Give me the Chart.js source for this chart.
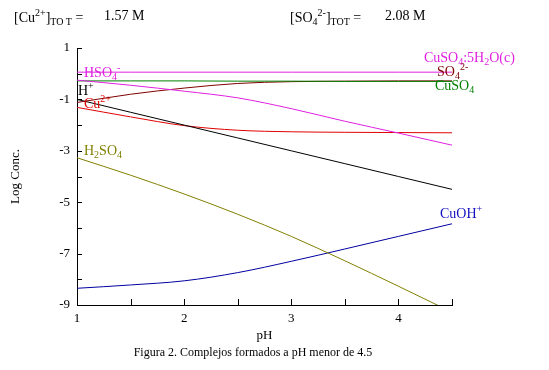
<!DOCTYPE html>
<html>
<head>
<meta charset="utf-8">
<script src="https://cdn.jsdelivr.net/npm/chart.js@4/dist/chart.umd.min.js"></script>
<style>
  body { margin: 0; background: #fff; font-family: 'Liberation Serif', serif; }
  #wrap { position: relative; width: 549px; height: 370px; }
  .txt { position: absolute; font-size: 14px; color: #000; white-space: nowrap; line-height: 1; }
  .txt sub, .txt sup { font-size: 10px; }
  #caption { position: absolute; left: 0; width: 506px; top: 345px; text-align: center; font-size: 12px; }
</style>
</head>
<body>
<div id="wrap">
  <canvas id="chart" width="549" height="370"></canvas>
  <div class="txt" style="left:14px;top:8px">[Cu<sup>2+</sup>]<sub>TO T</sub> =</div>
  <div class="txt" style="left:104px;top:9px">1.57 M</div>
  <div class="txt" style="left:290px;top:8px">[SO<sub>4</sub><sup>2-</sup>]<sub>TOT</sub> =</div>
  <div class="txt" style="left:385px;top:9px">2.08 M</div>
  <div id="caption">Figura 2. Complejos formados a pH menor de 4.5</div>
</div>
<script>
// pH grid and log concentrations
const phValues = [1, 1.5, 2, 2.5, 3, 3.5, 4, 4.5];
const logCuSO4Solid = [0.06, 0.06, 0.06, 0.06, 0.06, 0.06, 0.06, 0.06];
const logHSO4 = [-0.25, -0.45, -0.68, -0.94, -1.36, -1.85, -2.31, -2.78];
const logCuSO4 = [-0.28, -0.28, -0.28, -0.29, -0.29, -0.3, -0.3, -0.3];
const logSO4 = [-1.12, -0.8, -0.56, -0.38, -0.31, -0.29, -0.28, -0.28];
const logH = [-1, -1.5, -2, -2.5, -3, -3.5, -4, -4.5];
const logCu = [-1.31, -1.68, -2.02, -2.2, -2.26, -2.28, -2.29, -2.3];
const logH2SO4 = [-3.27, -3.95, -4.68, -5.47, -6.33, -7.28, -8.27, -9.28];
const logCuOH = [-8.35, -8.22, -8.06, -7.74, -7.3, -6.82, -6.33, -5.84];

const xTickLabels = [1, 2, 3, 4];
const yTickLabels = [1, -1, -3, -5, -7, -9];

const FONT = "'Liberation Serif', serif";

function pts(values) {
  return values.map((v, i) => ({ x: phValues[i], y: v }));
}

function line(values, color) {
  return {
    data: pts(values),
    borderColor: color,
    borderWidth: 1,
    pointRadius: 0,
    fill: false,
    cubicInterpolationMode: 'monotone'
  };
}

// species labels: [parts, x, y, color]; parts are [text, 'sub'|'sup'|'']
const speciesLabels = [
  [[['HSO', ''], ['4', 'sub'], ['-', 'sup']], 84, 77, '#e020e0'],
  [[['H', ''], ['+', 'sup']], 78, 95, '#000'],
  [[['Cu', ''], ['2+', 'sup']], 84, 108, '#e00000'],
  [[['H', ''], ['2', 'sub'], ['SO', ''], ['4', 'sub']], 84, 155, '#808000'],
  [[['CuSO', ''], ['4', 'sub'], [':5H', ''], ['2', 'sub'], ['O(c)', '']], 424, 62, '#e020e0'],
  [[['SO', ''], ['4', 'sub'], ['2-', 'sup']], 437, 76, '#800000'],
  [[['CuSO', ''], ['4', 'sub']], 435, 90, '#008000'],
  [[['CuOH', ''], ['+', 'sup']], 440, 218, '#1010c0']
];

function drawRich(ctx, parts, x, y, color) {
  ctx.fillStyle = color;
  ctx.textBaseline = 'alphabetic';
  ctx.textAlign = 'left';
  let cx = x;
  parts.forEach(([t, kind]) => {
    ctx.font = (kind ? '10px ' : '14px ') + FONT;
    const dy = kind === 'sub' ? 3 : kind === 'sup' ? -6 : 0;
    ctx.fillText(t, cx, y + dy);
    cx += ctx.measureText(t).width;
  });
}

const decorPlugin = {
  id: 'decor',
  afterDatasetsDraw(chart) {
    const { ctx, chartArea, scales } = chart;
    ctx.save();
    ctx.strokeStyle = '#000';
    ctx.lineWidth = 1;
    ctx.beginPath();
    // inward tick marks
    scales.y.ticks.forEach(t => {
      const py = Math.round(scales.y.getPixelForValue(t.value)) + 0.5;
      ctx.moveTo(chartArea.left, py);
      ctx.lineTo(chartArea.left + 5, py);
    });
    scales.x.ticks.forEach(t => {
      const px = Math.round(scales.x.getPixelForValue(t.value)) + 0.5;
      ctx.moveTo(px, chartArea.bottom);
      ctx.lineTo(px, chartArea.bottom - 6);
    });
    ctx.stroke();
    speciesLabels.forEach(([parts, x, y, color]) => drawRich(ctx, parts, x, y, color));
    ctx.restore();
  }
};

new Chart(document.getElementById('chart'), {
  type: 'line',
  data: {
    datasets: [
      line(logCuSO4Solid, '#e020e0'),
      line(logHSO4, '#e020e0'),
      line(logCuSO4, '#008000'),
      line(logSO4, '#800000'),
      line(logH, '#000000'),
      line(logCu, '#e00000'),
      line(logH2SO4, '#808000'),
      line(logCuOH, '#0000a0')
    ]
  },
  options: {
    responsive: false,
    animation: false,
    layout: { padding: { top: 48, right: 97, bottom: 25, left: 0 } },
    plugins: { legend: { display: false }, tooltip: { enabled: false } },
    scales: {
      x: {
        type: 'linear',
        min: 1,
        max: 4.5,
        afterFit(scale) { scale.height = 40; },
        border: { color: '#000', width: 1 },
        grid: { display: true, drawOnChartArea: false, drawTicks: false },
        ticks: {
          stepSize: 0.5,
          autoSkip: false,
          padding: 6,
          color: '#000',
          font: { family: FONT, size: 13 },
          callback: v => (xTickLabels.includes(v) ? String(v) : '')
        },
        title: { display: true, text: 'pH', color: '#000', font: { family: FONT, size: 13 }, padding: { top: 0, bottom: 2 } }
      },
      y: {
        min: -9,
        max: 1,
        afterFit(scale) { scale.width = 77; },
        border: { color: '#000', width: 1 },
        grid: { display: true, drawOnChartArea: false, drawTicks: false },
        ticks: {
          stepSize: 1,
          autoSkip: false,
          padding: 7,
          color: '#000',
          font: { family: FONT, size: 13 },
          callback: v => (yTickLabels.includes(v) ? String(v) : '')
        },
        title: { display: true, text: 'Log Conc.', color: '#000', font: { family: FONT, size: 13 }, padding: { top: 8, bottom: 0 } }
      }
    }
  },
  plugins: [decorPlugin]
});
</script>
</body>
</html>
